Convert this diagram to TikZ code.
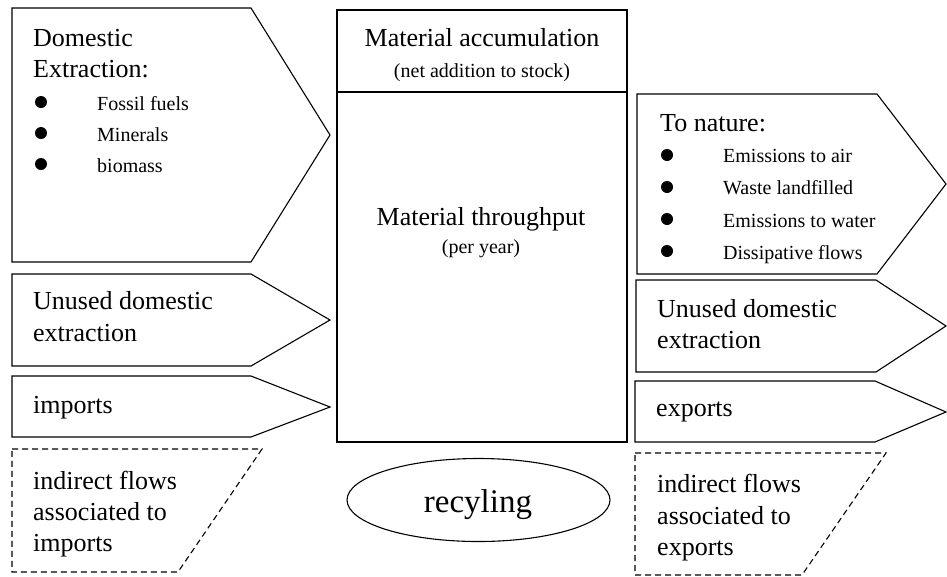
\documentclass[tikz,border=0pt]{standalone}
\usepackage{fontspec}
\setmainfont{Liberation Serif}
\tikzset{
  outline/.style={draw, line width=1.1pt, line join=miter},
  dashedoutline/.style={outline, dash pattern=on 6pt off 4pt},
  bigtext/.style={font=\fontsize{26}{31}\selectfont, inner sep=0pt, anchor=base west},
  smalltext/.style={font=\fontsize{20}{23}\selectfont, inner sep=0pt, anchor=base west},
  midtitle/.style={font=\fontsize{26}{31}\selectfont, inner sep=0pt, anchor=base},
  midsub/.style={font=\fontsize{20}{23}\selectfont, inner sep=0pt, anchor=base},
  bulletdot/.style={circle, fill=black, draw=none, inner sep=0pt, minimum size=12pt}
}
\begin{document}
\begin{tikzpicture}[x=1pt, y=-1pt]
  \useasboundingbox (0,0) rectangle (947,576);
  \clip (0,0) rectangle (947,576);

  % ---- inputs (left column) ----
  \draw[outline] (12,8) -- (251,8) -- (330,135) -- (251,262) -- (12,262) -- cycle;
  \draw[outline] (12,274) -- (251,274) -- (330,320) -- (251,366) -- (12,366) -- cycle;
  \draw[outline] (12,376) -- (251,376) -- (330,407) -- (251,437) -- (12,437) -- cycle;
  \draw[dashedoutline] (12,449) -- (262,449) -- (178,572) -- (12,572) -- cycle;

  \node[bigtext] (de1) at (33,46) {Domestic};
  \node[bigtext] (de2) at (33,77) {Extraction:};
  \node[bulletdot] (b1) at (41,102) {};
  \node[bulletdot] (b2) at (41,133) {};
  \node[bulletdot] (b3) at (41,164) {};
  \node[smalltext] (fossil) at (97,110) {Fossil fuels};
  \node[smalltext] (minerals) at (97,141) {Minerals};
  \node[smalltext] (biomass) at (97,172) {biomass};

  \node[bigtext] (ude1) at (33,309) {Unused domestic};
  \node[bigtext] (ude2) at (33,341) {extraction};
  \node[bigtext] (imp) at (33,413) {imports};
  \node[bigtext] (ind1) at (33,489) {indirect flows};
  \node[bigtext] (ind2) at (33,520) {associated to};
  \node[bigtext] (ind3) at (33,551) {imports};

  % ---- economy (middle) ----
  \draw[outline] (337,10) rectangle (627,442);
  \draw[outline] (337,92) -- (627,92);
  \node[midtitle] (acc) at (482,46) {Material accumulation};
  \node[midsub] (accsub) at (482,77) {(net addition to stock)};
  \node[midtitle] (thr) at (481,225) {Material throughput};
  \node[midsub] (thrsub) at (481,253) {(per year)};

  \draw[outline] (478.5,500) ellipse [x radius=131.5, y radius=41.5];
  \node[font=\fontsize{33}{38}\selectfont, inner sep=0pt, anchor=base] (rec) at (478,512) {recyling};

  % ---- outputs (right column) ----
  \draw[outline] (637,94) -- (877,94) -- (946,184) -- (877,274) -- (637,274) -- cycle;
  \draw[outline] (636,280) -- (876,280) -- (946,326) -- (876,372) -- (636,372) -- cycle;
  \draw[outline] (635,381) -- (875,381) -- (946,412) -- (875,442) -- (635,442) -- cycle;
  \draw[dashedoutline] (635,453) -- (886,453) -- (802,575) -- (635,575) -- cycle;

  \node[bigtext] (nat) at (660,131) {To nature:};
  \node[bulletdot] (c1) at (667,155) {};
  \node[bulletdot] (c2) at (667,187) {};
  \node[bulletdot] (c3) at (667,219) {};
  \node[bulletdot] (c4) at (667,251) {};
  \node[smalltext] (air) at (723,162) {Emissions to air};
  \node[smalltext] (land) at (723,194) {Waste landfilled};
  \node[smalltext] (water) at (723,227) {Emissions to water};
  \node[smalltext] (diss) at (723,259) {Dissipative flows};

  \node[bigtext] (ude3) at (657,317) {Unused domestic};
  \node[bigtext] (ude4) at (657,348) {extraction};
  \node[bigtext] (exp) at (656,416) {exports};
  \node[bigtext] (ind4) at (657,492) {indirect flows};
  \node[bigtext] (ind5) at (657,524) {associated to};
  \node[bigtext] (ind6) at (657,555) {exports};
\end{tikzpicture}
\end{document}
